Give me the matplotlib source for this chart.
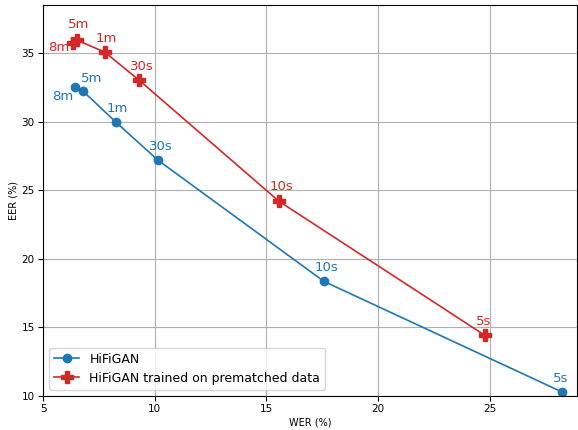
import matplotlib
matplotlib.use("Agg")
import matplotlib.pyplot as plt

labels = ["8m", "5m", "1m", "30s", "10s", "5s"]

hifigan_wer = [6.43, 6.79, 8.27, 10.15, 17.57, 28.22]
hifigan_eer = [32.52, 32.23, 29.96, 27.19, 18.36, 10.3]

prematched_wer = [6.34, 6.52, 7.77, 9.3, 15.56, 24.78]
prematched_eer = [35.73, 35.95, 35.07, 33.03, 24.2, 14.42]

# label offsets in points (dx, dy)
blue_off = [(-9, -7), (6, 9), (1, 10), (2, 10), (2, 10), (-1, 10)]
red_off = [(-10, -3), (1, 11), (1, 10), (2, 10), (2, 11), (-1, 10)]

fig = plt.figure(figsize=(5.78, 4.3), dpi=100)
ax = fig.add_axes([0.0744, 0.079, 0.924, 0.909])

ax.plot(hifigan_wer, hifigan_eer, color="tab:blue", marker="o", markersize=6,
        linewidth=1.2, label="HiFiGAN")
ax.plot(prematched_wer, prematched_eer, color="tab:red", marker="P", markersize=8,
        linewidth=1.2, label="HiFiGAN trained on prematched data")

for i, lab in enumerate(labels):
    ax.annotate(lab, (hifigan_wer[i], hifigan_eer[i]), xytext=blue_off[i],
                textcoords="offset points", ha="center", va="center",
                color="tab:blue", fontsize=9.5)
    ax.annotate(lab, (prematched_wer[i], prematched_eer[i]), xytext=red_off[i],
                textcoords="offset points", ha="center", va="center",
                color="tab:red", fontsize=9.5)

ax.set_xlim(5, 28.9)
ax.set_ylim(10, 38.5)
ax.grid(True, color="#b0b0b0", linewidth=0.8)
ax.set_axisbelow(True)
ax.tick_params(labelsize=7.5, pad=2.5)
ax.set_xlabel("WER (%)", fontsize=7, labelpad=2)
ax.set_ylabel("EER (%)", fontsize=7, labelpad=2)
ax.legend(loc="lower left", fontsize=9)

fig.savefig("out.png", dpi=100)
